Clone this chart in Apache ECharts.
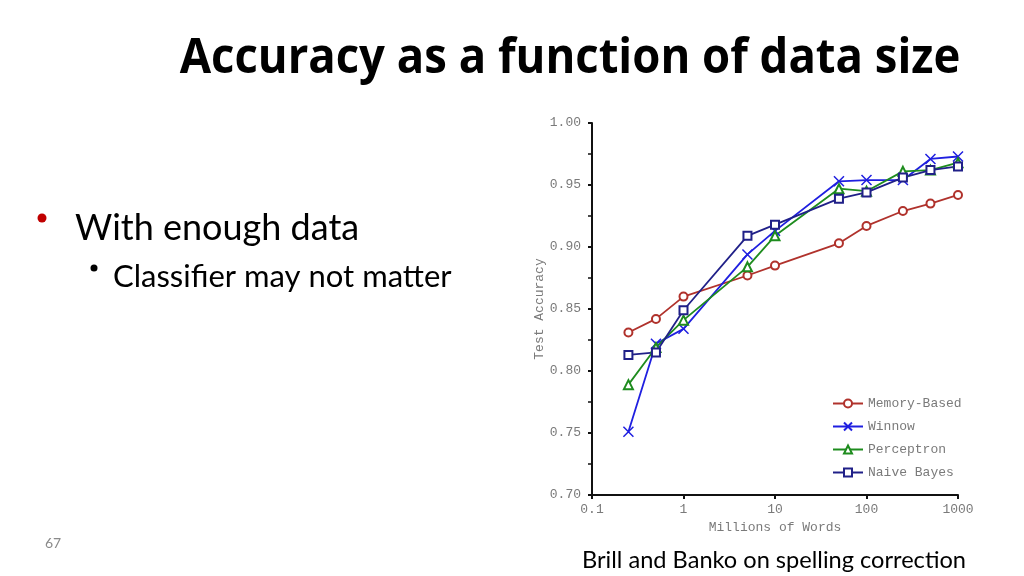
<!DOCTYPE html>
<html>
<head>
<meta charset="utf-8">
<script src="https://cdn.jsdelivr.net/npm/echarts@6/dist/echarts.min.js"></script>
<style>
  html, body { margin: 0; padding: 0; background: #fff; }
  #chart { width: 1024px; height: 576px; }
</style>
</head>
<body>
<div id="chart"></div>
<script>
// millions of words used for training
const wordCounts = [0.25, 0.5, 1, 5, 10, 50, 100, 250, 500, 1000];

// test accuracy per learner
const memoryBased = [0.831, 0.842, 0.860, 0.877, 0.885, 0.903, 0.917, 0.929, 0.935, 0.942];
const winnow = [0.751, 0.822, 0.834, 0.894, 0.913, 0.953, 0.954, 0.954, 0.971, 0.973];
const perceptron = [0.789, 0.819, 0.841, 0.884, 0.909, 0.947, 0.945, 0.961, 0.962, 0.968];
const naiveBayes = [0.813, 0.815, 0.849, 0.909, 0.918, 0.939, 0.944, 0.956, 0.962, 0.965];

const seriesNames = ["Memory-Based", "Winnow", "Perceptron", "Naive Bayes"];
const xTickLabels = ["0.1", "1", "10", "100", "1000"];

const slideTitle = "Accuracy as a function of data size";
const bullet1 = "With enough data";
const bullet2 = "Classifier may not matter";
const caption = "Brill and Banko on spelling correction";
const pageNumber = "67";

const mono = '"Liberation Mono", "DejaVu Sans Mono", monospace';
const grey = "#7a7a7a";

const pairs = (ys) => wordCounts.map((x, i) => [x, ys[i]]);

const mkSeries = (name, ys, color, symbol, size) => ({
  name: name,
  type: "line",
  data: pairs(ys),
  symbol: symbol,
  symbolSize: size,
  showSymbol: true,
  lineStyle: { color: color, width: 1.8 },
  itemStyle: { color: color, borderColor: color, borderWidth: 1.5 },
  emphasis: { disabled: true },
  animation: false,
});

const chart = echarts.init(document.getElementById("chart"), null, { renderer: "canvas" });

const option = {
  backgroundColor: "#fff",
  animation: false,
  grid: { left: 592, right: 66, top: 123, bottom: 81 },
  xAxis: {
    type: "log",
    logBase: 10,
    min: 0.1,
    max: 1000,
    name: "Millions of Words",
    nameLocation: "middle",
    nameGap: 24,
    nameTextStyle: { fontFamily: mono, fontSize: 13, color: grey },
    axisLine: { lineStyle: { color: "#111", width: 2 } },
    axisTick: { lineStyle: { color: "#111", width: 2 }, length: 4 },
    axisLabel: {
      fontFamily: mono,
      fontSize: 13,
      color: grey,
      margin: 8,
      formatter: (v) => {
        const s = xTickLabels.find((t) => Math.abs(Number(t) - v) < 1e-9);
        return s || "";
      },
    },
    splitLine: { show: false },
  },
  yAxis: {
    type: "value",
    min: 0.7,
    max: 1.0,
    interval: 0.05,
    name: "Test Accuracy",
    nameLocation: "middle",
    nameGap: 38,
    nameRotate: 90,
    nameTextStyle: { fontFamily: mono, fontSize: 13, color: grey },
    axisLine: { show: true, lineStyle: { color: "#111", width: 2 } },
    axisTick: { show: true, lineStyle: { color: "#111", width: 2 }, length: 4 },
    minorTick: { show: true, splitNumber: 2, length: 4, lineStyle: { color: "#111", width: 1.5 } },
    axisLabel: {
      fontFamily: mono,
      fontSize: 13,
      color: grey,
      margin: 11,
      formatter: (v) => v.toFixed(2),
    },
    splitLine: { show: false },
  },
  legend: {
    orient: "vertical",
    left: 827,
    top: 392,
    itemWidth: 30,
    itemHeight: 10,
    itemGap: 10,
    data: seriesNames,
    textStyle: { fontFamily: mono, fontSize: 13, color: grey },
    selectedMode: false,
  },
  series: [
    mkSeries(seriesNames[0], memoryBased, "#b0322c", "emptyCircle", 8),
    mkSeries(seriesNames[1], winnow, "#1f1fe0", "path://M0,0L10,10M10,0L0,10", 10),
    mkSeries(seriesNames[2], perceptron, "#1e8c1e", "emptyTriangle", 9),
    mkSeries(seriesNames[3], naiveBayes, "#202088", "emptyRect", 8),
  ],
  graphic: [
    {
      type: "text",
      x: 570,
      y: 59,
      scaleX: 0.947,
      style: {
        text: slideTitle,
        font: 'bold 48px "Open Sans", sans-serif',
        fill: "#000",
        align: "center",
        verticalAlign: "middle",
      },
    },
    {
      type: "circle",
      shape: { cx: 42, cy: 218, r: 4.5 },
      style: { fill: "#c00000" },
    },
    {
      type: "text",
      x: 75,
      y: 228,
      style: {
        text: bullet1,
        font: '36px Lato, "Open Sans", sans-serif',
        fill: "#000",
        align: "left",
        verticalAlign: "middle",
      },
    },
    {
      type: "circle",
      shape: { cx: 94, cy: 268, r: 3.5 },
      style: { fill: "#000" },
    },
    {
      type: "text",
      x: 113,
      y: 277,
      style: {
        text: bullet2,
        font: '31px Lato, "Open Sans", sans-serif',
        fill: "#000",
        align: "left",
        verticalAlign: "middle",
      },
    },
    {
      type: "text",
      x: 45,
      y: 543,
      style: {
        text: pageNumber,
        font: '14px Lato, sans-serif',
        fill: "#8a8a8a",
        align: "left",
        verticalAlign: "middle",
      },
    },
    {
      type: "text",
      x: 774,
      y: 560,
      style: {
        text: caption,
        font: '23.6px Lato, "Open Sans", sans-serif',
        fill: "#000",
        align: "center",
        verticalAlign: "middle",
      },
    },
  ],
};

chart.setOption(option);
</script>
</body>
</html>
